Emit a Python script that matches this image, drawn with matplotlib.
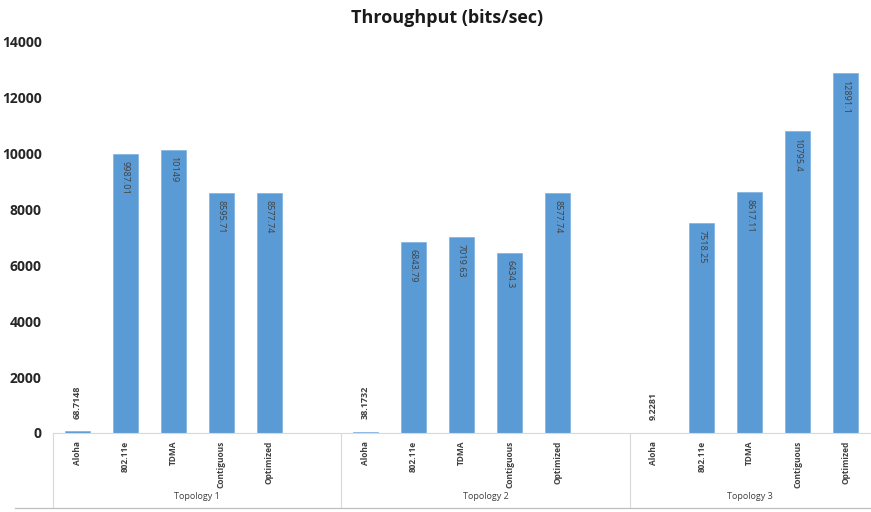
import matplotlib.pyplot as plt
import matplotlib.transforms as mtransforms

plt.rcParams["font.family"] = ["Open Sans", "DejaVu Sans"]

TITLE = "Throughput (bits/sec)"
GROUPS = ["Topology 1", "Topology 2", "Topology 3"]
PROTOCOLS = ["Aloha", "802.11e", "TDMA", "Contiguous", "Optimized"]
VALUES = [
    [68.7148, 9987.01, 10149, 8595.71, 8577.74],
    [38.1732, 6843.79, 7019.63, 6434.3, 8577.74],
    [9.2281, 7518.25, 8617.11, 10795.4, 12891.1],
]
LABELS = [
    ["68.7148", "9987.01", "10149", "8595.71", "8577.74"],
    ["38.1732", "6843.79", "7019.63", "6434.3", "8577.74"],
    ["9.2281", "7518.25", "8617.11", "10795.4", "12891.1"],
]
YTICKS = [0, 2000, 4000, 6000, 8000, 10000, 12000, 14000]

BAR_COLOR = "#5b9bd5"
LINE_COLOR = "#d9d9d9"
TEXT_COLOR = "#404040"
SLOTS = 6  # 5 bars + 1 blank slot per group (last group has no blank)

fig = plt.figure(figsize=(8.71, 5.12), dpi=100)
ax = fig.add_axes([53 / 871, 79 / 512, 817 / 871, 391 / 512])

n_slots = SLOTS * (len(GROUPS) - 1) + len(PROTOCOLS)
for g, (vals, labs) in enumerate(zip(VALUES, LABELS)):
    xs = [g * SLOTS + i for i in range(len(vals))]
    ax.bar(xs, vals, width=0.52, color=BAR_COLOR, edgecolor="#7fb2e0",
           linewidth=0.5, zorder=2)
    for x, v, lab, name in zip(xs, vals, labs, PROTOCOLS):
        if v < 1000:
            ax.annotate(lab, (x, v), xytext=(0, 9), textcoords="offset points",
                        rotation=90, ha="center", va="bottom", fontsize=6.5,
                        fontweight="bold", color=TEXT_COLOR)
        else:
            ax.annotate(lab, (x, v), xytext=(0, -5), textcoords="offset points",
                        rotation=-90, ha="center", va="top", fontsize=6.5,
                        color=TEXT_COLOR)
        ax.text(x, -0.02, name, transform=ax.get_xaxis_transform(),
                rotation=90, ha="center", va="top", fontsize=6,
                fontweight="bold", color=TEXT_COLOR)

    n = SLOTS if g < len(GROUPS) - 1 else len(PROTOCOLS)
    left = g * SLOTS - 0.5
    ax.text(left + n / 2, -0.163, GROUPS[g], transform=ax.get_xaxis_transform(),
            ha="center", va="center", fontsize=6.5, color=TEXT_COLOR)
    ax.plot([left, left], [0, -0.19], transform=ax.get_xaxis_transform(),
            color=LINE_COLOR, linewidth=0.8, clip_on=False)

trans = mtransforms.blended_transform_factory(fig.transFigure, ax.transAxes)
ax.plot([15 / 871, 1.0], [-0.192, -0.192], transform=trans, color="#bfbfbf",
        linewidth=0.9, clip_on=False)

ax.set_xlim(-0.5, n_slots - 0.5)
ax.set_ylim(0, 14000)
ax.set_yticks(YTICKS)
ax.set_yticklabels([str(t) for t in YTICKS], fontsize=10, fontweight="bold",
                   color="#262626")
ax.set_xticks([])
ax.tick_params(axis="y", length=0, pad=8)
for side in ["top", "right", "left"]:
    ax.spines[side].set_visible(False)
ax.spines["bottom"].set_color(LINE_COLOR)
ax.spines["bottom"].set_linewidth(0.8)

fig.text(447 / 871, 1 - 18 / 512, TITLE, ha="center", va="center",
         fontsize=13, fontweight="bold", color="#1a1a1a")

fig.savefig("out.png", dpi=100)
